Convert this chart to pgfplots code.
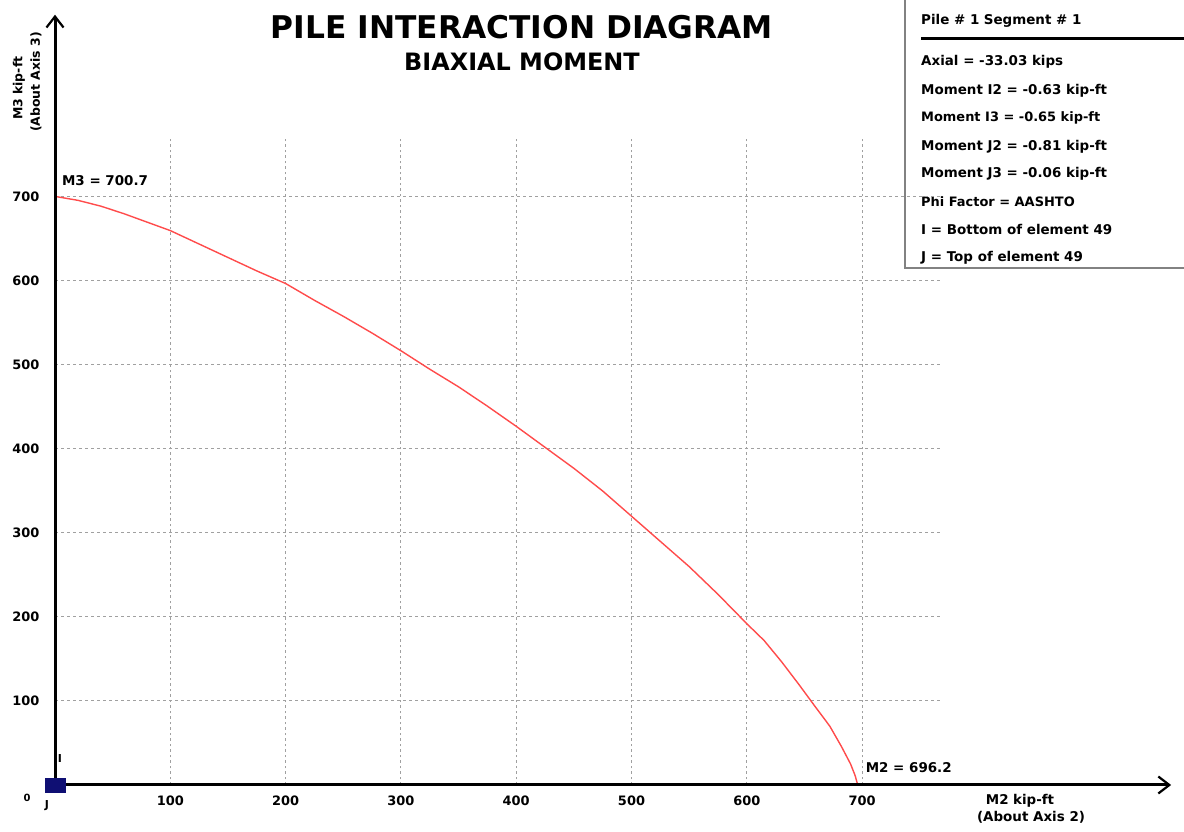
\documentclass[border=0pt]{standalone}
\usepackage{fontspec}
\setmainfont{DejaVu Sans}
\usepackage{pgfplots}
\pgfplotsset{compat=1.18}
\usetikzlibrary{arrows.meta}
\definecolor{curvered}{RGB}{255,75,75}
\definecolor{gridgray}{RGB}{160,160,160}
\definecolor{boxgray}{RGB}{130,130,130}
\definecolor{navyblue}{RGB}{15,15,115}
\newcommand{\fs}[1]{\fontsize{#1}{#1}\selectfont\bfseries}
\begin{document}
\begin{tikzpicture}[x=1bp,y=1bp]
\useasboundingbox (0,0) rectangle (1184,832);
% titles
\node[font=\fs{31.4}] at (522,805) {PILE INTERACTION DIAGRAM};
\node[font=\fs{24}] at (522,770) {BIAXIAL MOMENT};
% info box
\draw[boxgray, line width=1.5bp] (905,840) -- (905,564) -- (1190,564);
\draw[black, line width=3bp] (921,793) -- (1184,793);
\begin{scope}[every node/.style={anchor=base west, inner sep=0pt, font=\fs{13.5}}]
\node at (921,807) {Pile \# 1\,\,Segment \# 1};
\node at (921,766) {Axial = -33.03 kips};
\node at (921,737) {Moment I2 = -0.63 kip-ft};
\node[font=\fs{13}] at (921,710) {Moment I3 = -0.65 kip-ft};
\node at (921,681) {Moment J2 = -0.81 kip-ft};
\node at (921,654) {Moment J3 = -0.06 kip-ft};
\node[font=\fs{13}] at (921,625) {Phi Factor = AASHTO};
\node at (921,597) {I = Bottom of element 49};
\node at (921,570) {J = Top of element 49};
\end{scope}
% axis titles
\node[font=\fs{12.5}, rotate=90, anchor=west, inner sep=0pt] at (19,712) {M3\,\,kip-ft};
\node[font=\fs{12.5}, rotate=90, inner sep=0pt] at (36,750) {(About Axis 3)};
\node[font=\fs{13.5}, inner sep=0pt] at (1020,31) {M2\,\,kip-ft};
\node[font=\fs{13.5}, inner sep=0pt] at (1031,15) {(About Axis 2)};
% origin labels
\node[font=\fs{10}, inner sep=0pt] at (27,34.5) {0};
\node[font=\fs{11}, inner sep=0pt] at (47,26) {J};
\node[font=\fs{11}, inner sep=0pt] at (60,73) {I};
\begin{axis}[
  x=1.153bp, y=0.84bp,
  anchor=origin, at={(55bp,47bp)},
  xmin=0, xmax=968, ymin=0, ymax=917,
  enlargelimits=false,
  axis lines=left,
  axis line style={line width=3bp, black, -{Straight Barb[length=11bp,width=17bp,line width=2.2bp]}},
  axis on top,
  clip=false,
  xtick={100,200,...,700}, ytick={100,200,...,700},
  major tick length=0pt,
  /pgf/number format/assume math mode=true,
  tick label style={font=\fs{13}},
  xticklabel style={yshift=-7.5bp},
  yticklabel style={xshift=-12bp},
]
\pgfplotsinvokeforeach{100,200,...,700}{
  \draw[gridgray, line width=1bp, dash pattern=on 2.5bp off 3bp] (axis cs:#1,0) -- (axis cs:#1,770);
  \draw[gridgray, line width=1bp, dash pattern=on 3bp off 3bp] (axis cs:0,#1) -- (axis cs:770,#1);
}
\addplot[curvered, line width=1.4bp] coordinates {
(0,700.7) (20,696) (40,689) (60,680) (80,670) (100,660) (125,644) (150,628)
(175,612) (200,597) (225,577) (250,558) (275,538) (300,517) (325,495) (350,474)
(375,451) (400,427) (425,402) (450,377) (475,350) (500,320) (525,290) (550,260)
(575,227) (600,192) (615,172) (630,147) (645,120) (660,92) (672,70) (682,46)
(690,25) (694,11) (696.2,0)
};
\addplot[only marks, mark=square*, mark size=7bp, mark options={xscale=1.43, fill=navyblue, draw=navyblue}] coordinates {(0,0)};
\node[font=\fs{13.5}, anchor=west, inner sep=0pt] at (axis cs:6,720) {M3 = 700.7};
\node[font=\fs{13.5}, anchor=west, inner sep=0pt] at (axis cs:703,21) {M2 = 696.2};
\end{axis}
\end{tikzpicture}
\end{document}
